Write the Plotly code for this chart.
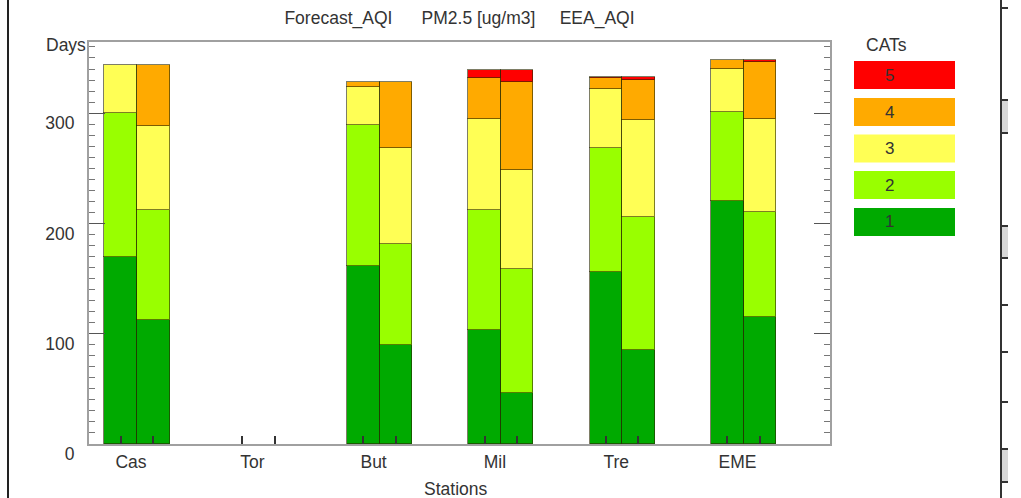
import plotly.graph_objects as go

# ---------------- data ----------------
stations = ["Cas", "Tor", "But", "Mil", "Tre", "EME"]
categories = ["1", "2", "3", "4", "5"]
cat_colors = ["#00aa00", "#99ff00", "#ffff55", "#ffaa00", "#ff0000"]

# Forecast_AQI (left bar of each pair), days per category
fc_cat1 = [170, 0, 161, 103, 156, 220]
fc_cat2 = [130, 0, 128, 109, 112, 81]
fc_cat3 = [44, 0, 35, 83, 54, 39]
fc_cat4 = [0, 0, 4, 37, 10, 8]
fc_cat5 = [0, 0, 0, 7, 1, 0]

# EEA_AQI (right bar of each pair), days per category
eea_cat1 = [112, 0, 90, 46, 85, 115]
eea_cat2 = [100, 0, 91, 113, 121, 95]
eea_cat3 = [76, 0, 87, 89, 88, 85]
eea_cat4 = [56, 0, 60, 80, 36, 51]
eea_cat5 = [0, 0, 0, 11, 3, 2]

y_ticks = [0, 100, 200, 300]

forecast = [fc_cat1, fc_cat2, fc_cat3, fc_cat4, fc_cat5]
eea = [eea_cat1, eea_cat2, eea_cat3, eea_cat4, eea_cat5]

# ---------------- layout geometry ----------------
W_FIG, H_FIG = 1021, 498
L, R, T, B = 89, 830, 42, 444
PW, PH = R - L, B - T
FONT = "Liberation Sans, Arial, sans-serif"
TXT = "#333333"
FS = 17.5

def px(xp):
    return (xp - L) / PW

def py(yp):
    return (B - yp) / PH

off = 0.134
bw = 0.268
idx = list(range(len(stations)))
x_left = [i - off for i in idx]
x_right = [i + off for i in idx]

fig = go.Figure()
for k, cat in enumerate(categories):
    yv = [v if v else None for v in forecast[k]] + [v if v else None for v in eea[k]]
    fig.add_trace(go.Bar(
        x=x_left + x_right, y=yv, width=bw, name=cat,
        marker=dict(color=cat_colors[k], line=dict(color="rgba(40,40,0,0.6)", width=1)),
        showlegend=False,
    ))

shapes = []
annotations = []

# legend (CATs)
annotations.append(dict(text="CATs", xref="paper", yref="paper", x=px(886), y=py(45),
                        xanchor="center", yanchor="middle", showarrow=False,
                        font=dict(family=FONT, size=FS, color=TXT)))
box_tops = [61, 98, 134.5, 171, 208]
for j, k in enumerate(range(4, -1, -1)):
    y0 = box_tops[j]
    shapes.append(dict(type="rect", xref="paper", yref="paper",
                       x0=px(854), x1=px(955), y0=py(y0 + 28), y1=py(y0),
                       fillcolor=cat_colors[k], line=dict(width=0)))
    annotations.append(dict(text=categories[k], xref="paper", yref="paper",
                            x=px(889), y=py(y0 + 14), xanchor="center", yanchor="middle",
                            showarrow=False, font=dict(family=FONT, size=17, color=TXT)))

# axis titles
annotations.append(dict(text="Days", xref="paper", yref="paper", x=px(88), y=py(45),
                        xanchor="right", yanchor="middle", showarrow=False,
                        font=dict(family=FONT, size=FS, color=TXT)))
annotations.append(dict(text="Stations", xref="paper", yref="paper", x=px(455.5), y=py(489),
                        xanchor="center", yanchor="middle", showarrow=False,
                        font=dict(family=FONT, size=FS, color=TXT)))

# page decorations (borders at the edges)
shapes.append(dict(type="line", xref="paper", yref="paper", x0=px(8), x1=px(8),
                   y0=py(498), y1=py(0), line=dict(color="#222222", width=2)))
shapes.append(dict(type="line", xref="paper", yref="paper", x0=px(1001), x1=px(1001),
                   y0=py(498), y1=py(0), line=dict(color="#333333", width=2)))
for a, b in [(100, 133), (226, 258), (449, 482)]:
    shapes.append(dict(type="rect", xref="paper", yref="paper", x0=px(1002), x1=px(1008),
                       y0=py(b), y1=py(a), fillcolor="#d8d8d8", line=dict(width=0)))
for yy in [8, 100, 133, 226, 258, 305, 352, 402, 449, 482]:
    shapes.append(dict(type="line", xref="paper", yref="paper", x0=px(1001), x1=px(1008),
                       y0=py(yy), y1=py(yy), line=dict(color="#333333", width=2)))

title_txt = "Forecast_AQI" + "\u00a0" * 6 + "PM2.5 [ug/m3]" + "\u00a0" * 5 + "EEA_AQI"

fig.update_layout(
    width=W_FIG, height=H_FIG, autosize=False,
    margin=dict(l=L, r=W_FIG - R, t=T, b=H_FIG - B, pad=0),
    paper_bgcolor="white", plot_bgcolor="white",
    barmode="stack", bargap=0,
    font=dict(family=FONT, size=FS, color=TXT),
    title=dict(text=title_txt, x=px(459.5), xanchor="center", xref="paper",
               y=1 - 18 / H_FIG, yanchor="middle", yref="container",
               font=dict(family=FONT, size=FS, color=TXT)),
    xaxis=dict(
        range=[(L - 137) / 121.3, (R - 137) / 121.3],
        tickmode="array", tickvals=idx, ticktext=stations, ticks="",
        ticklabelshift=-6, ticklabelstandoff=1,
        showgrid=False, zeroline=False,
        showline=True, linecolor="#a0a0a0", linewidth=2, mirror=True,
        minor=dict(tickmode="array", tickvals=x_left + x_right, ticks="inside",
                   ticklen=8, tickwidth=1.5, tickcolor="#333333", showgrid=False),
        tickfont=dict(family=FONT, size=FS, color=TXT),
    ),
    yaxis=dict(
        range=[0, 364.5],
        tickmode="array", tickvals=y_ticks, ticks="inside", ticklen=16,
        tickwidth=1, tickcolor="#555555",
        ticklabelshift=10, ticklabelstandoff=9,
        showgrid=False, zeroline=False,
        showline=True, linecolor="#a0a0a0", linewidth=2, mirror="ticks",
        minor=dict(dtick=10, tick0=0, ticks="inside", ticklen=6, tickwidth=1,
                   tickcolor="#777777", showgrid=False),
        tickfont=dict(family=FONT, size=FS, color=TXT),
    ),
    shapes=shapes,
    annotations=annotations,
)

fig.write_html("out.html")
